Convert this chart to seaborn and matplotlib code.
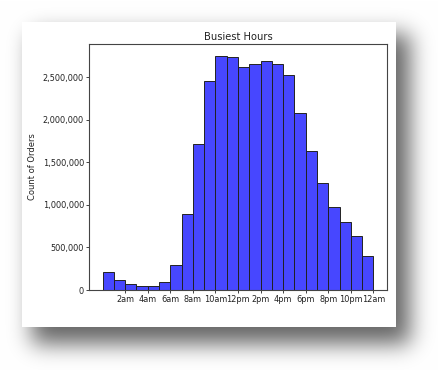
import numpy as np
import pandas as pd
import matplotlib
matplotlib.use("Agg")
import matplotlib.pyplot as plt
import matplotlib.ticker as mticker
from matplotlib.patches import Rectangle
import seaborn as sns

# ---- data ----
hours = list(range(24))
order_counts = [217000, 118000, 75000, 51000, 51000, 90000, 295000, 890000,
                1717000, 2453000, 2756000, 2740000, 2618000, 2657000, 2693000,
                2661000, 2535000, 2083000, 1634000, 1264000, 972000, 799000,
                638000, 405000]
tick_positions = [2, 4, 6, 8, 10, 12, 14, 16, 18, 20, 22, 24]
tick_labels = ["2am", "4am", "6am", "8am", "10am", "12pm", "2pm", "4pm",
               "6pm", "8pm", "10pm", "12am"]
title = "Busiest Hours"
ylabel = "Count of Orders"

df = pd.DataFrame({"hour": hours, "count": order_counts})

W, H = 439, 370
fig = plt.figure(figsize=(W / 100, H / 100), dpi=100, facecolor="white")

# ---- shadowed card background ----
bg = fig.add_axes([0, 0, 1, 1], zorder=-10)
bg.set_axis_off()
mask = np.zeros((H, W))
mask[34:344, 32:410] = 1.0

def blur(a, s):
    r = int(3 * s)
    x = np.arange(-r, r + 1)
    k = np.exp(-x**2 / (2 * s * s)); k /= k.sum()
    a = np.apply_along_axis(lambda m: np.convolve(m, k, mode="same"), 0, a)
    a = np.apply_along_axis(lambda m: np.convolve(m, k, mode="same"), 1, a)
    return a

sh = blur(mask, 11) * 0.6
img = np.ones((H, W, 3)) * (1 - sh)[..., None]
bg.imshow(img, extent=[0, W, H, 0], aspect="auto", interpolation="bilinear")
bg.add_patch(Rectangle((22, 22), 374, 305, facecolor="white", edgecolor="none"))
bg.set_xlim(0, W); bg.set_ylim(H, 0)

# ---- chart ----
ax = fig.add_axes([89 / W, 1 - 290 / H, (387 - 89) / W, (290 - 44) / H])
sns.histplot(data=df, x="hour", weights="count", bins=list(range(25)),
             color="blue", alpha=0.72, edgecolor="#222222", linewidth=0.7, ax=ax)

ax.set_xticks(tick_positions)
ax.set_xticklabels(tick_labels)
ax.yaxis.set_major_formatter(mticker.FuncFormatter(lambda v, p: f"{int(v):,}"))
ax.set_xlabel("")
ax.set_ylabel(ylabel, fontsize=6.0, color="#222222")
ax.set_title(title, fontsize=7.1, color="#222222", pad=3)
ax.tick_params(labelsize=5.9, length=2.2, width=0.6, pad=1.5, colors="#222222")
for s in ax.spines.values():
    s.set_linewidth(0.8)
    s.set_color("#444444")

fig.savefig("out.png", dpi=100)
